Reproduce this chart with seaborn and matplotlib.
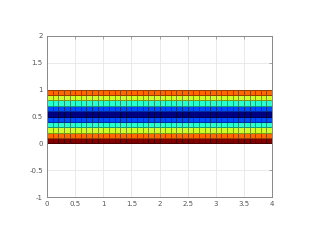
import numpy as np
import pandas as pd
import matplotlib
matplotlib.use("Agg")
import matplotlib.pyplot as plt
import seaborn as sns

# Data
x_edges = np.round(np.arange(0, 4.0001, 0.1), 2)          # 40 columns
y_edges = np.round(np.arange(0, 1.0001, 0.1), 2)          # 10 rows
row_values = [1.0, 0.8, 0.6, 0.4, 0.2, 0.0, 0.2, 0.4, 0.6, 0.8]  # bottom -> top
x_ticks = [0, 0.5, 1, 1.5, 2, 2.5, 3, 3.5, 4]
x_ticklabels = ["0", "0.5", "1", "1.5", "2", "2.5", "3", "3.5", "4"]
y_ticks = [-1, -0.5, 0, 0.5, 1, 1.5, 2]
y_ticklabels = ["-1", "-0.5", "0", "0.5", "1", "1.5", "2"]

sns.set_style("white")
plt.rcParams['font.family'] = ['DejaVu Sans']

ncols = len(x_edges) - 1
df = pd.DataFrame(np.tile(np.array(row_values)[:, None], (1, ncols)))

fig = plt.figure(figsize=(3.2, 2.4), dpi=100)
ax = fig.add_axes([47/320, 43/240, 225/320, 161/240])
ax.pcolormesh(x_edges, y_edges, df.values, cmap="jet", vmin=0, vmax=1,
              edgecolors=(0, 0, 0, 0.4), linewidth=0.4, zorder=2)
ax.set_xlim(0, 4)
ax.set_ylim(-1, 2)
ax.set_xticks(x_ticks)
ax.set_xticklabels(x_ticklabels)
ax.set_yticks(y_ticks)
ax.set_yticklabels(y_ticklabels)
ax.grid(True, color="#e6e6e6", linewidth=0.6, zorder=0)
ax.set_axisbelow(True)
ax.tick_params(direction="in", length=2.5, width=0.5, colors="#888888",
               labelsize=5, labelcolor="#555555", top=True, right=True, pad=3)
for s in ax.spines.values():
    s.set_color("#888888")
    s.set_linewidth(0.7)
fig.savefig("out.png", dpi=100)
